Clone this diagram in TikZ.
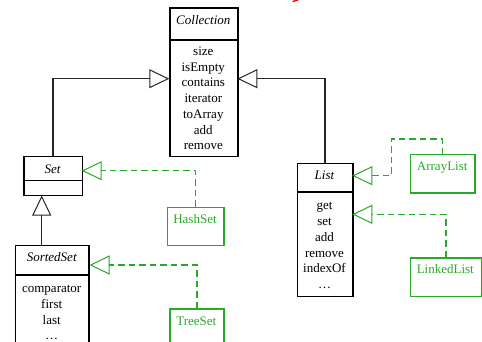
\documentclass[tikz,border=0pt]{standalone}
\usepackage{fontspec}
\setmainfont{Liberation Serif}
\usetikzlibrary{arrows.meta}
\definecolor{realgreen}{RGB}{40,170,40}
\tikzset{
  cls/.style={draw=black, line width=1.2pt, inner sep=0pt, anchor=north west},
  impl/.style={draw=realgreen, line width=1.2pt, inner sep=0pt, anchor=north west},
  divider/.style={draw=black, line width=1.2pt},
  txt/.style={font=\fontsize{13}{15}\selectfont, anchor=base, inner sep=0pt},
  title/.style={txt, font=\fontsize{13}{15}\selectfont\itshape},
  gtxt/.style={txt, text=realgreen},
  gen/.style={draw=black!85, line width=1.4pt,
    -{Triangle[open, length=20pt, width=19pt, line width=1pt]}},
  real/.style={draw=realgreen, line width=1.3pt, dash pattern=on 6.5pt off 4pt,
    -{Triangle[open, length=20pt, width=19pt, line width=1pt]}},
}
\begin{document}
\begin{tikzpicture}[x=1pt,y=-1pt]
\useasboundingbox (0,0) rectangle (482,341);
\clip (0,0) rectangle (482,341);

% interface Collection
\node[cls, minimum width=68, minimum height=148.7] (coll) at (169.3,7.3) {};
\draw[divider] (coll.west |- 0,40) -- (coll.east |- 0,40);
\node[title] (coll-name) at (203.3,24.5) {Collection};
\foreach \t [count=\i from 0] in {size,isEmpty,contains,iterator,toArray,add,remove}
  \node[txt] (coll-op\i) at (203.3,55.5+15.7*\i) {\t};

% interface List
\node[cls, minimum width=55.6, minimum height=133] (list) at (296.7,162.7) {};
\draw[divider] (list.west |- 0,192) -- (list.east |- 0,192);
\node[title] (list-name) at (324.5,179.5) {List};
\foreach \t [count=\i from 0] in {get,set,add,remove,indexOf,…}
  \node[txt] (list-op\i) at (324.5,209.6+15.8*\i) {\t};

% interface Set
\node[cls, minimum width=58.4, minimum height=39] (set) at (23.3,156) {};
\draw[divider] (set.west |- 0,180.7) -- (set.east |- 0,180.7);
\node[title] (set-name) at (52.5,173.8) {Set};

% interface SortedSet
\node[cls, minimum width=73.3, minimum height=110] (sorted) at (15,245) {};
\draw[divider] (sorted.west |- 0,275) -- (sorted.east |- 0,275);
\node[title] (sorted-name) at (51.7,261) {SortedSet};
\foreach \t [count=\i from 0] in {comparator,first,last,…}
  \node[txt] (sorted-op\i) at (51.7,292.5+15.8*\i) {\t};

% implementing classes
\node[impl, minimum width=56.6, minimum height=38.3] (hash) at (166.7,206.7) {};
\node[gtxt] (hash-name) at (195,223.5) {HashSet};
\node[impl, minimum width=54, minimum height=50] (tree) at (169.3,308.3) {};
\node[gtxt] (tree-name) at (196.3,325.5) {TreeSet};
\node[impl, minimum width=64.3, minimum height=38.3] (array) at (410,154) {};
\node[gtxt] (array-name) at (442.2,170) {ArrayList};
\node[impl, minimum width=70.5, minimum height=38.4] (linked) at (410,257.3) {};
\node[gtxt] (linked-name) at (445.3,273.5) {LinkedList};

% attachment points
\coordinate (collL) at (169.3,78.7);
\coordinate (collR) at (237.3,78.7);
\coordinate (setB) at (41.7,195.5);
\coordinate (setR) at (81.7,170.7);
\coordinate (sortedR) at (89.5,265);
\coordinate (listA) at (352.3,175.7);
\coordinate (listB) at (352.3,214.3);
\coordinate (arrayBend) at (391.7,139);

% generalisation
\draw[gen] (set.north) |- (collL);
\draw[gen] (list.north) |- (collR);
\draw[gen] (sorted.north -| setB) -- (setB);

% realisation
\draw[real] (hash.north) |- (setR);
\draw[real] (tree.north) |- (sortedR);
\draw[real] (array.north) |- (arrayBend) |- (listA);
\draw[real] (linked.north) |- (listB);

% edge of the red heading above
\draw[red, line width=1.4pt, line cap=round] (293,1.4) -- (298,0);
\end{tikzpicture}
\end{document}
